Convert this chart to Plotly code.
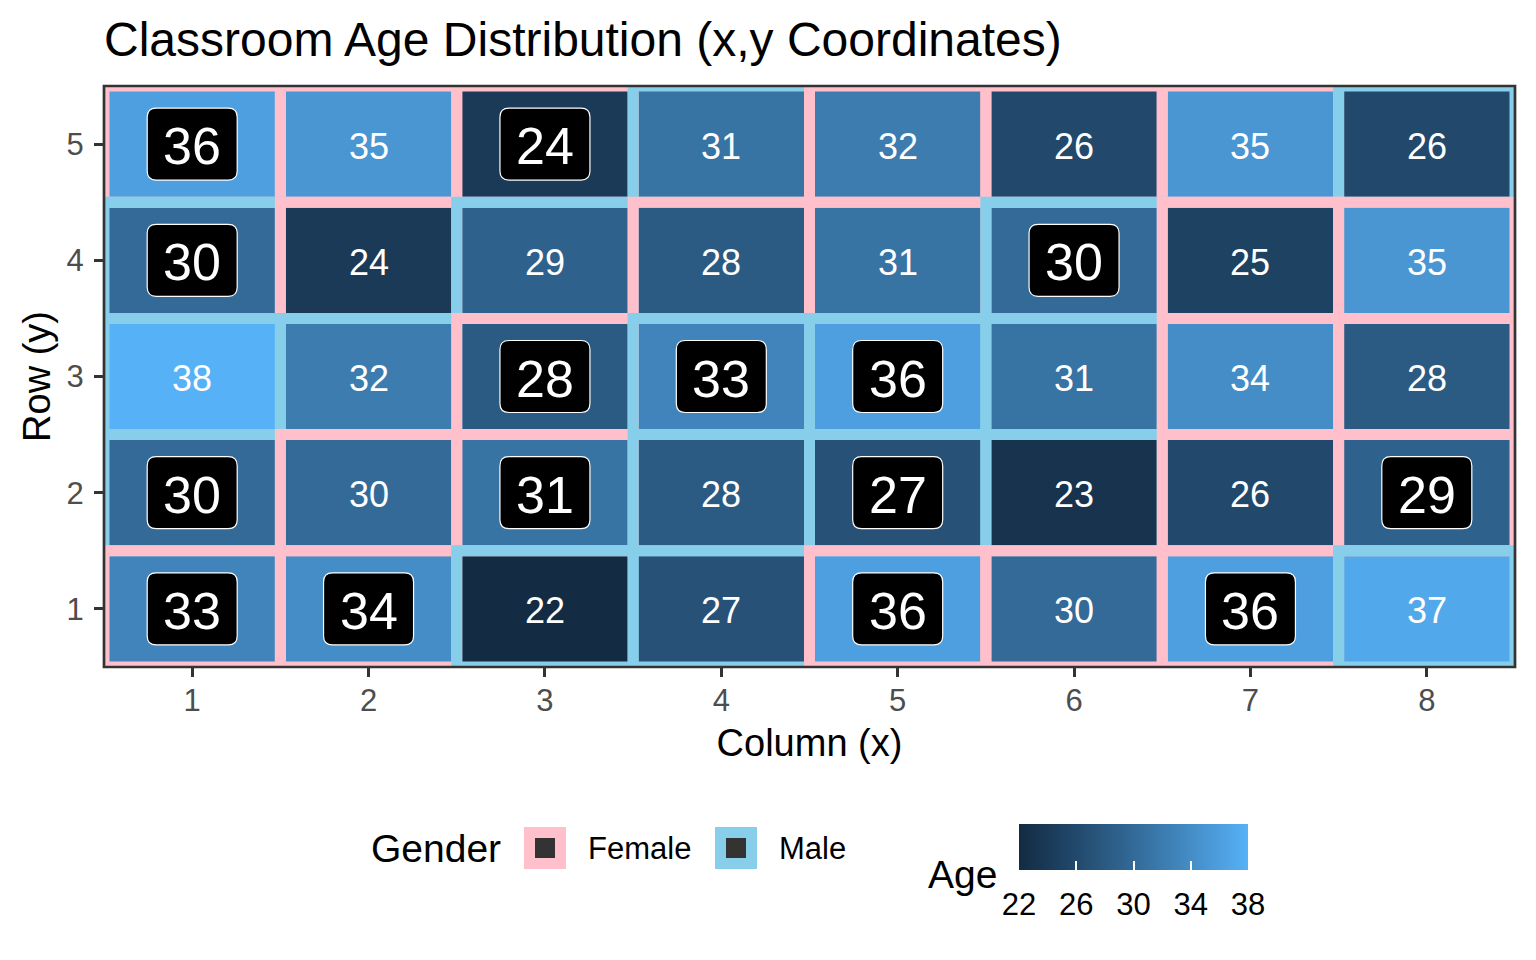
import plotly.graph_objects as go
import numpy as np

# ---------------- data ----------------
cols = [1, 2, 3, 4, 5, 6, 7, 8]
rows = [1, 2, 3, 4, 5]
# ages per row (row 1 = bottom) across columns 1..8
age_r1 = [33, 34, 22, 27, 36, 30, 36, 37]
age_r2 = [30, 30, 31, 28, 27, 23, 26, 29]
age_r3 = [38, 32, 28, 33, 36, 31, 34, 28]
age_r4 = [30, 24, 29, 28, 31, 30, 25, 35]
age_r5 = [36, 35, 24, 31, 32, 26, 35, 26]
# gender per row: F / M
gen_r1 = ["F", "F", "M", "M", "F", "F", "F", "M"]
gen_r2 = ["M", "F", "F", "M", "M", "M", "F", "F"]
gen_r3 = ["M", "M", "F", "M", "M", "M", "F", "F"]
gen_r4 = ["M", "F", "M", "F", "F", "M", "F", "F"]
gen_r5 = ["F", "F", "F", "M", "F", "F", "F", "M"]
# highlighted (labelled) seats per row: 1 = highlighted
hl_r1 = [1, 1, 0, 0, 1, 0, 1, 0]
hl_r2 = [1, 0, 1, 0, 1, 0, 0, 1]
hl_r3 = [0, 0, 1, 1, 1, 0, 0, 0]
hl_r4 = [1, 0, 0, 0, 0, 1, 0, 0]
hl_r5 = [1, 0, 1, 0, 0, 0, 0, 0]
age_ticks = [22, 26, 30, 34, 38]

ages = [age_r1, age_r2, age_r3, age_r4, age_r5]
gens = [gen_r1, gen_r2, gen_r3, gen_r4, gen_r5]
hls = [hl_r1, hl_r2, hl_r3, hl_r4, hl_r5]

# ---------------- style ----------------
OFF = 8                      # page body margin
W, H = 1536 - 2 * OFF, 960 - 2 * OFF
ML, MR, MT, MB = 104 - OFF, 21 - OFF, 86 - OFF, 293 - OFF
PW, PH = W - ML - MR, H - MT - MB
FONT = "Liberation Sans, Arial, sans-serif"
PINK, SKY = "#FFC0CB", "#87CEEB"
gcolor = {"F": PINK, "M": SKY}


def px2x(px):  # screen px -> paper x
    return (px - OFF - ML) / PW


def px2y(py):  # screen px -> paper y
    return (H - MB - (py - OFF)) / PH


# ggplot2 default gradient (#132B43 -> #56B1F7) interpolated in Lab
def srgb2lin(c):
    c = c / 255.0
    return np.where(c <= 0.04045, c / 12.92, ((c + 0.055) / 1.055) ** 2.4)


def lin2srgb(c):
    c = np.clip(c, 0, 1)
    return np.where(c <= 0.0031308, c * 12.92, 1.055 * c ** (1 / 2.4) - 0.055) * 255


M_ = np.array([[0.4124564, 0.3575761, 0.1804375],
               [0.2126729, 0.7151522, 0.0721750],
               [0.0193339, 0.1191920, 0.9503041]])
WP = np.array([0.95047, 1.0, 1.08883])


def hex2lab(h):
    rgb = np.array([int(h[i:i + 2], 16) for i in (1, 3, 5)], float)
    xyz = M_ @ srgb2lin(rgb) / WP
    f = np.where(xyz > 216 / 24389, np.cbrt(xyz), (24389 / 27 * xyz + 16) / 116)
    return np.array([116 * f[1] - 16, 500 * (f[0] - f[1]), 200 * (f[1] - f[2])])


def lab2hex(lab):
    L, a, b = lab
    fy = (L + 16) / 116
    fx = fy + a / 500
    fz = fy - b / 200
    f = np.array([fx, fy, fz])
    xyz = np.where(f ** 3 > 216 / 24389, f ** 3, (116 * f - 16) / (24389 / 27)) * WP
    rgb = lin2srgb(np.linalg.solve(M_, xyz))
    return "#%02X%02X%02X" % tuple(int(round(v)) for v in rgb)


lab_lo, lab_hi = hex2lab("#132B43"), hex2lab("#56B1F7")
cscale = [[t, lab2hex(lab_lo + (lab_hi - lab_lo) * t)] for t in np.linspace(0, 1, 21)]

cb_common = dict(
    orientation="h", xanchor="left", x=px2x(1019), yanchor="top", y=px2y(824),
    yref="paper", xref="paper",
    lenmode="pixels", len=229, thickness=46, thicknessmode="pixels",
    xpad=0, ypad=0, outlinewidth=0, tickvals=age_ticks, title=dict(text=""),
)

fig = go.Figure()
# main heatmap + colorbar with labels
fig.add_trace(go.Heatmap(
    x=cols, y=rows, z=ages, zmin=22, zmax=38, colorscale=cscale, hoverinfo="skip",
    colorbar=dict(**cb_common, ticks="outside", ticklen=8, tickcolor="rgba(255,255,255,0)",
                  tickfont=dict(family=FONT, size=31, color="black")),
))
# identical overlay heatmap whose colorbar carries the white inside tick marks
fig.add_trace(go.Heatmap(
    x=cols, y=rows, z=ages, zmin=22, zmax=38, colorscale=cscale, hoverinfo="skip",
    colorbar=dict(**cb_common, ticks="inside", ticklen=9, tickcolor="white", tickwidth=1.5,
                  showticklabels=False),
))

shapes = []
# tile borders, drawn top row first, left to right (later tiles overwrite shared edges)
for ri in range(len(rows) - 1, -1, -1):
    for ci in range(len(cols)):
        shapes.append(dict(
            type="rect", xref="x", yref="y",
            x0=cols[ci] - 0.5, x1=cols[ci] + 0.5, y0=rows[ri] - 0.5, y1=rows[ri] + 0.5,
            line=dict(color=gcolor[gens[ri][ci]], width=11), fillcolor="rgba(0,0,0,0)",
            layer="above",
        ))

# rounded label boxes
BW, BH, R = 45, 36, 9
box_path = (f"M {-BW + R},{-BH} L {BW - R},{-BH} Q {BW},{-BH} {BW},{-BH + R} "
            f"L {BW},{BH - R} Q {BW},{BH} {BW - R},{BH} L {-BW + R},{BH} "
            f"Q {-BW},{BH} {-BW},{BH - R} L {-BW},{-BH + R} Q {-BW},{-BH} {-BW + R},{-BH} Z")
annotations = []
for ri in range(len(rows)):
    for ci in range(len(cols)):
        big = hls[ri][ci] == 1
        if big:
            shapes.append(dict(
                type="path", xref="x", yref="y", xsizemode="pixel", ysizemode="pixel",
                xanchor=cols[ci], yanchor=rows[ri], path=box_path,
                fillcolor="black", line=dict(color="white", width=1.2), layer="above",
            ))
        annotations.append(dict(
            x=cols[ci], y=rows[ri], xref="x", yref="y", text=str(ages[ri][ci]),
            showarrow=False, xanchor="center", yanchor="middle", yshift=-2,
            font=dict(family=FONT, size=52 if big else 36, color="white"),
        ))

# panel border
shapes.append(dict(type="rect", xref="paper", yref="paper", x0=0, x1=1, y0=0, y1=1,
                   line=dict(color="#333333", width=2.7), fillcolor="rgba(0,0,0,0)",
                   layer="above"))

# gender legend keys
for (x0, x1, col) in [(524, 566, PINK), (715, 757, SKY)]:
    shapes.append(dict(type="rect", xref="paper", yref="paper",
                       x0=px2x(x0 + 5.5), x1=px2x(x1 - 5.5), y0=px2y(869 - 5.5), y1=px2y(827 + 5.5),
                       line=dict(color=col, width=11), fillcolor="#333333", layer="above"))

legend_texts = [
    ("Gender", 369, 849, 39),
    ("Female", 586, 849, 31),
    ("Male", 777, 849, 31),
    ("Age", 926, 875, 39),
]
for txt, x, y, s in legend_texts:
    annotations.append(dict(
        x=px2x(x), y=px2y(y), xref="paper", yref="paper", text=txt, showarrow=False,
        xanchor="left", yanchor="middle", font=dict(family=FONT, size=s, color="black"),
    ))

fig.update_layout(
    width=W, height=H,
    margin=dict(l=ML, r=MR, t=MT, b=MB, autoexpand=False),
    paper_bgcolor="white", plot_bgcolor="white",
    title=dict(text="Classroom Age Distribution (x,y Coordinates)",
               x=ML / W, xanchor="left", xref="container",
               y=1 - (39 - OFF) / H, yanchor="middle", yref="container",
               font=dict(family=FONT, size=48, color="black")),
    xaxis=dict(range=[0.5, 8.5], tickvals=cols, showgrid=False, zeroline=False,
               ticks="outside", ticklen=9, tickwidth=2.7, tickcolor="#333333",
               tickfont=dict(family=FONT, size=31, color="#4D4D4D"),
               ticklabelstandoff=-3,
               title=dict(text="Column (x)", standoff=12,
                          font=dict(family=FONT, size=38, color="black"))),
    yaxis=dict(range=[0.5, 5.5], tickvals=rows, showgrid=False, zeroline=False,
               ticks="outside", ticklen=9, tickwidth=2.7, tickcolor="#333333",
               tickfont=dict(family=FONT, size=31, color="#4D4D4D"),
               ticklabelstandoff=4,
               title=dict(text="Row (y)", standoff=4,
                          font=dict(family=FONT, size=38, color="black"))),
    shapes=shapes, annotations=annotations,
    showlegend=False,
)

fig.write_html("out.html")
